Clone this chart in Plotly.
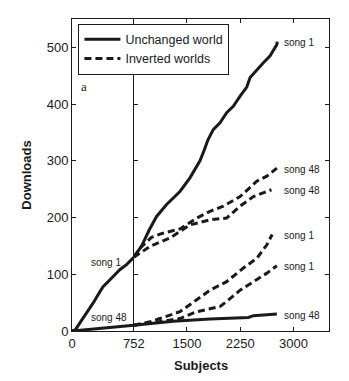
import plotly.graph_objects as go
from plotly.subplots import make_subplots

# ---------------- data ----------------
SPLIT = 752  # subjects before the inversion

# Unchanged world, before the inversion (left panel)
pre_s1_x = [0, 40, 94, 175, 256, 338, 378, 459, 581, 663, 752]
pre_s1_y = [0, 2, 14, 31, 49, 69, 78, 90, 108, 117, 130]
pre_s48_x = [0, 150, 300, 450, 600, 752]
pre_s48_y = [0, 2, 4, 6, 8, 10]

# Unchanged world, after the inversion (right panel)
unch_s1_x = [752, 862, 968, 1072, 1213, 1401, 1542, 1683, 1740, 1796, 1870, 1965, 2059,
             2152, 2248, 2342, 2389, 2483, 2576, 2671, 2766, 2770]
unch_s1_y = [130, 150, 178, 202, 223, 246, 270, 300, 318, 337, 355, 367, 385,
             396, 414, 430, 447, 461, 473, 485, 505, 510]
unch_s48_x = [752, 1000, 1307, 1824, 2365, 2436, 2766]
unch_s48_y = [10, 13, 17, 21, 24, 27, 30]

# Inverted world A
invA_s48_x = [752, 837, 1000, 1150, 1401, 1637, 1824, 2012, 2248, 2483, 2625, 2766]
invA_s48_y = [130, 146, 165, 172, 180, 199, 211, 220, 237, 264, 273, 287]
invA_s1_x = [752, 1000, 1200, 1401, 1637, 1964, 2059, 2248, 2483, 2625, 2766]
invA_s1_y = [10, 14, 18, 22, 34, 43, 52, 72, 90, 102, 115]

# Inverted world B
invB_s48_x = [752, 978, 1260, 1542, 1824, 2059, 2248, 2436, 2625, 2690]
invB_s48_y = [130, 149, 164, 187, 196, 199, 220, 237, 246, 249]
invB_s1_x = [752, 900, 1000, 1119, 1401, 1637, 1824, 2059, 2294, 2483, 2625, 2700]
invB_s1_y = [10, 14, 17, 22, 34, 55, 72, 87, 111, 128, 152, 170]

x_ticks_left = [0]
x_ticks_right = [752, 1500, 2250, 3000]
y_ticks = [0, 100, 200, 300, 400, 500]
x_range_left = [0, 752]
x_range_right = [752, 3500]
y_range = [0, 550]

# end labels (label text, value)
end_labels = [("song 1", 508), ("song 48", 284), ("song 48", 247),
              ("song 1", 168), ("song 1", 114), ("song 48", 28)]

# ---------------- figure ----------------
FONT = "Liberation Sans, Arial, Helvetica, sans-serif"
INK = "#1a1a1a"
LW = 3
DASH = "7px,4px"

fig = make_subplots(rows=1, cols=2, shared_yaxes=True, horizontal_spacing=0,
                    column_widths=[61.7, 194.7])

def add(x, y, col, dash="solid", name=None, show=False):
    fig.add_trace(go.Scatter(x=x, y=y, mode="lines", name=name, showlegend=show,
                             line=dict(color=INK, width=LW, dash=dash)),
                  row=1, col=col)

add(pre_s1_x, pre_s1_y, 1, name="Unchanged world", show=True)
add(pre_s48_x, pre_s48_y, 1)
add(unch_s1_x, unch_s1_y, 2)
add(unch_s48_x, unch_s48_y, 2)
add(invA_s48_x, invA_s48_y, 2, DASH, name="Inverted worlds", show=True)
add(invB_s48_x, invB_s48_y, 2, DASH)
add(invA_s1_x, invA_s1_y, 2, DASH)
add(invB_s1_x, invB_s1_y, 2, DASH)

axis_common = dict(showline=True, linecolor=INK, linewidth=1, mirror="ticks",
                   ticks="inside", ticklen=4, tickcolor=INK, showgrid=False,
                   zeroline=False, tickfont=dict(family=FONT, size=13, color=INK))

fig.update_xaxes(**axis_common)
fig.update_yaxes(**axis_common)
fig.update_xaxes(range=x_range_left, tickmode="array", tickvals=x_ticks_left,
                 row=1, col=1)
fig.update_xaxes(range=x_range_right, tickmode="array", tickvals=x_ticks_right,
                 row=1, col=2)
fig.update_yaxes(range=y_range, tickmode="array", tickvals=y_ticks, row=1, col=1,
                 mirror=False,
                 title=dict(text="<b>Downloads</b>", standoff=12,
                            font=dict(family=FONT, size=13, color=INK)))
fig.update_yaxes(range=y_range, tickmode="array", tickvals=y_ticks,
                 showticklabels=False, row=1, col=2)

ann = []
for txt, yv in end_labels:
    ann.append(dict(x=2836, y=yv, xref="x2", yref="y2", text=txt, showarrow=False,
                    xanchor="left", yanchor="middle",
                    font=dict(family=FONT, size=10, color=INK)))
ann.append(dict(x=411, y=121, xref="x", yref="y", text="song 1", showarrow=False,
                font=dict(family=FONT, size=10, color=INK)))
ann.append(dict(x=444, y=24, xref="x", yref="y", text="song 48", showarrow=False,
                font=dict(family=FONT, size=10, color=INK)))
ann.append(dict(x=150, y=431, xref="x", yref="y", text="a", showarrow=False,
                font=dict(family="Liberation Serif, Times New Roman, serif",
                          size=13, color=INK)))
ann.append(dict(x=0.5, y=-0.109, xref="paper", yref="paper", text="<b>Subjects</b>",
                showarrow=False, yanchor="middle",
                font=dict(family=FONT, size=13, color=INK)))

fig.update_layout(
    width=349, height=381,
    margin=dict(l=72, r=20, t=19, b=50),
    paper_bgcolor="white", plot_bgcolor="white",
    font=dict(family=FONT, size=13, color=INK),
    annotations=ann,
    legend=dict(x=0.025, y=0.985, xanchor="left", yanchor="top",
                bordercolor=INK, borderwidth=1, bgcolor="white",
                font=dict(family=FONT, size=12.5, color=INK),
                tracegroupgap=0, itemwidth=36),
)

fig.write_html("out.html")
